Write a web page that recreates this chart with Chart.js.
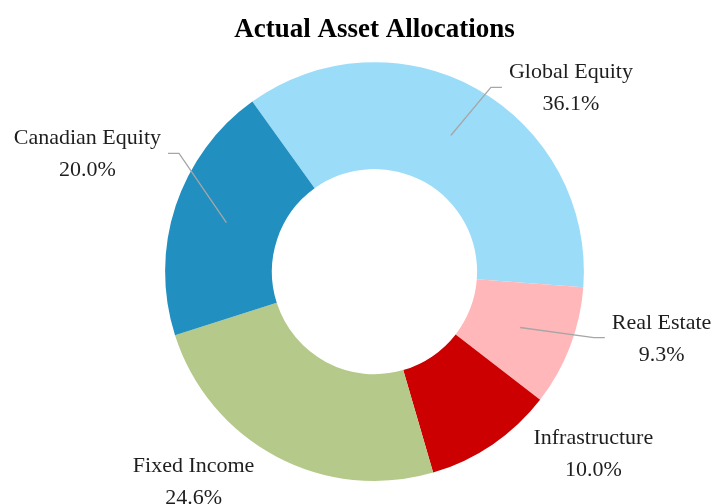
<!DOCTYPE html>
<html lang="en">
<head>
    <meta charset="UTF-8">
    <meta name="viewport" content="width=device-width, initial-scale=1.0">
    <title>Actual Asset Allocations</title>

    <script src="https://cdn.jsdelivr.net/npm/chart.js"></script>

    <style>
        html, body {
            margin: 0;
            padding: 0;
            background: #fff;
        }

        .chart-container {
            position: relative;
            width: 715px;
            height: 504px;
        }
    </style>
</head>
<body>
    <div class="chart-container">
        <canvas id="allocationChart"></canvas>
    </div>

    <script>
        // Slices, clockwise from the top-left edge of Global Equity
        const categories = ['Global Equity', 'Real Estate', 'Infrastructure', 'Fixed Income', 'Canadian Equity'];
        const allocations = [36.1, 9.3, 10.0, 24.6, 20.0];
        const sliceColors = ['#9BDCF8', '#FFB7BA', '#CC0000', '#B4C98A', '#228FC1'];

        // Where each label sits, relative to the doughnut centre, in units of the outer radius
        const labelSpots = [
            { dx: 0.938, dy: -0.885, leader: true },
            { dx: 1.371, dy: 0.311, leader: true },
            { dx: 1.045, dy: 0.861, leader: false },
            { dx: -0.864, dy: 0.995, leader: false },
            { dx: -1.371, dy: -0.569, leader: true }
        ];

        const labelFont = '22px "Liberation Serif", "Times New Roman", serif';

        // Draws the two-line data labels and their leader lines
        const sliceLabels = {
            id: 'sliceLabels',
            afterDatasetsDraw(chart) {
                const ctx = chart.ctx;
                const meta = chart.getDatasetMeta(0);
                ctx.save();
                ctx.font = labelFont;
                ctx.textAlign = 'center';
                ctx.textBaseline = 'alphabetic';

                meta.data.forEach((arc, i) => {
                    const r = arc.outerRadius;
                    const spot = labelSpots[i];
                    const lx = arc.x + spot.dx * r;
                    const ly = arc.y + spot.dy * r;
                    const name = categories[i];
                    const pct = allocations[i].toFixed(1) + '%';

                    if (spot.leader) {
                        const c = arc.getCenterPoint();
                        const half = ctx.measureText(name).width / 2;
                        const side = lx > c.x ? -1 : 1;
                        const endX = lx + side * (half + 7);
                        const elbowX = endX + side * 11;
                        ctx.beginPath();
                        ctx.moveTo(endX, ly + 1);
                        ctx.lineTo(elbowX, ly + 1);
                        ctx.lineTo(c.x, c.y);
                        ctx.strokeStyle = '#A6A6A6';
                        ctx.lineWidth = 1.3;
                        ctx.stroke();
                    }

                    ctx.fillStyle = '#1e1e1e';
                    ctx.fillText(name, lx, ly - 8);
                    ctx.fillText(pct, lx, ly + 24);
                });

                ctx.restore();
            }
        };

        const ctx = document.getElementById('allocationChart').getContext('2d');
        const allocationChart = new Chart(ctx, {
            type: 'doughnut',
            data: {
                labels: categories,
                datasets: [{
                    data: allocations,
                    backgroundColor: sliceColors,
                    borderWidth: 0
                }]
            },
            options: {
                responsive: true,
                maintainAspectRatio: false,
                animation: false,
                rotation: -35.7,
                cutout: '49%',
                layout: {
                    padding: { left: 34, right: 0, top: 0, bottom: 23 }
                },
                plugins: {
                    legend: { display: false },
                    tooltip: { enabled: false },
                    title: {
                        display: true,
                        text: 'Actual Asset Allocations',
                        color: '#000',
                        font: {
                            family: '"Liberation Serif", "Times New Roman", serif',
                            size: 27,
                            weight: 'bold'
                        },
                        padding: { top: 13.5, bottom: 16.3 }
                    }
                }
            },
            plugins: [sliceLabels]
        });
    </script>
</body>
</html>
